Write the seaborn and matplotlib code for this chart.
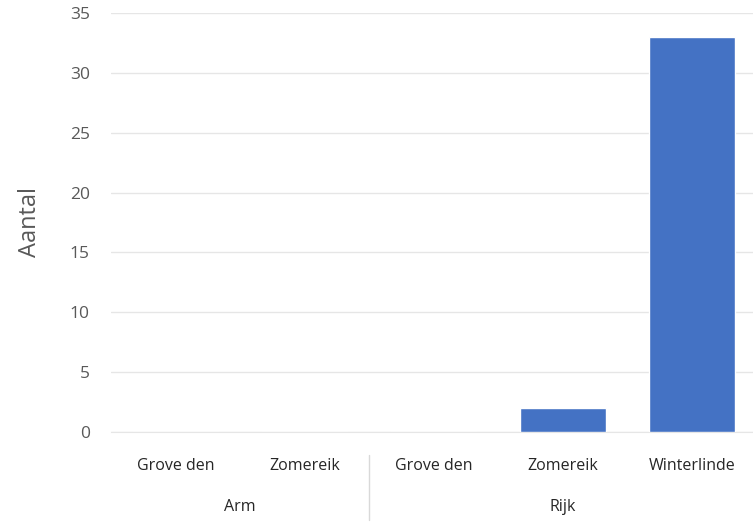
import matplotlib
matplotlib.use("Agg")
import matplotlib.pyplot as plt
import seaborn as sns
import pandas as pd

groups = ["Arm", "Arm", "Rijk", "Rijk", "Rijk"]
species = ["Grove den", "Zomereik", "Grove den", "Zomereik", "Winterlinde"]
counts = [0, 0, 0, 2, 33]

df = pd.DataFrame({"group": groups, "species": species, "count": counts})
df["key"] = df["group"] + "|" + df["species"]

sns.set_style("white")
plt.rcParams['font.family'] = ['Open Sans', 'DejaVu Sans']

fig = plt.figure(figsize=(7.53, 5.26), dpi=100)
ax = fig.add_axes([0.147, 0.179, 0.858, 0.796])

sns.barplot(data=df, x="key", y="count", order=list(df["key"]), color="#4472C4",
            width=0.67, saturation=1, ax=ax, zorder=3)

ax.set_xlim(-0.5, len(species) - 0.5)
ax.set_ylim(0, 35)
ax.set_yticks(range(0, 36, 5))
ax.yaxis.grid(True, color="#e6e6e6", linewidth=1, zorder=0)
ax.set_axisbelow(True)
for s in ["top", "right", "left"]:
    ax.spines[s].set_visible(False)
ax.spines["bottom"].set_color("#e6e6e6")
ax.tick_params(axis="y", length=0, pad=15, labelsize=12.5, labelcolor="#595959")
ax.tick_params(axis="x", length=0, pad=19, labelsize=11.5, labelcolor="#262626")
ax.set_xticks(range(len(species)))
ax.set_xticklabels(species)
ax.set_xlabel("")
ax.set_ylabel("Aantal", fontsize=17, color="#595959", labelpad=20)

# group labels and separator below the category labels
trans = ax.get_xaxis_transform()
for g in df["group"].unique():
    idx = df.index[df["group"] == g]
    ax.text((idx.min() + idx.max()) / 2, -0.179, g, transform=trans, ha="center",
            va="center", fontsize=11.5, color="#262626")
first_rijk = df.index[df["group"] == "Rijk"].min()
ax.plot([first_rijk - 0.5, first_rijk - 0.5], [-0.055, -0.21], transform=trans,
        color="#d9d9d9", linewidth=1, clip_on=False)

fig.savefig("out.png", dpi=100)
